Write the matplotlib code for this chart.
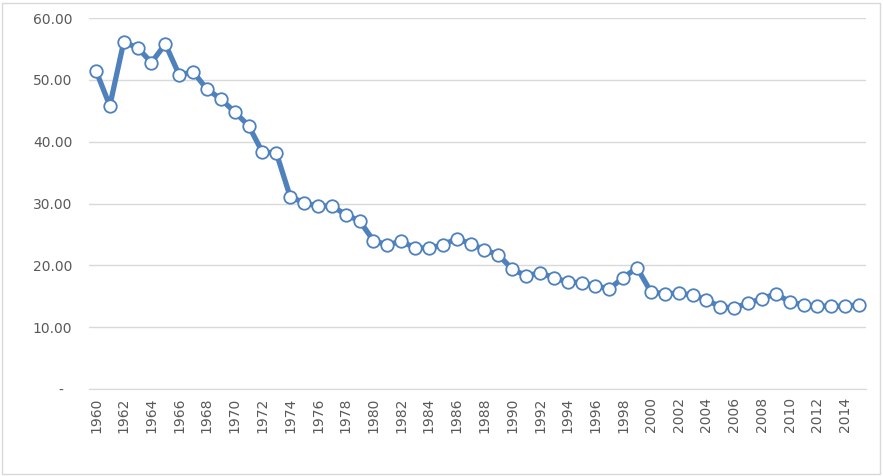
import numpy as np
import matplotlib.pyplot as plt

# yearly values
years = list(range(1960, 2016))
values = [51.5, 45.8, 56.1, 55.2, 52.8, 55.8, 50.8, 51.3, 48.5, 46.9,
          44.8, 42.6, 38.3, 38.2, 31.1, 30.1, 29.6, 29.6, 28.2, 27.2,
          24.0, 23.3, 23.9, 22.8, 22.8, 23.3, 24.3, 23.5, 22.5, 21.7,
          19.4, 18.3, 18.8, 18.0, 17.3, 17.2, 16.7, 16.2, 18.0, 19.6,
          15.7, 15.4, 15.5, 15.2, 14.4, 13.3, 13.1, 13.9, 14.6, 15.4,
          14.1, 13.6, 13.4, 13.4, 13.4, 13.6]
y_ticks = [0, 10, 20, 30, 40, 50, 60]
y_labels = ['-  ', '10.00', '20.00', '30.00', '40.00', '50.00', '60.00']

W, H = 883, 476
fig = plt.figure(figsize=(W / 100, H / 100), dpi=100)
fig.patches.append(plt.Rectangle((2 / W, 2 / H), 1 - 5 / W, 1 - 5 / H,
                                 transform=fig.transFigure, fill=False,
                                 edgecolor='#d9d9d9', linewidth=1))

ax = fig.add_axes([89 / W, 1 - 389 / H, (866 - 89) / W, (389 - 18) / H])
x = np.arange(len(years))
ax.plot(x, values, color='#4f81bd', linewidth=3.8, marker='o', markersize=9,
        markerfacecolor='white', markeredgecolor='#4f81bd', markeredgewidth=1.3,
        zorder=3)

ax.set_xlim(-0.5, len(years) - 0.5)
ax.set_ylim(0, 60)
ax.set_yticks(y_ticks)
ax.set_yticklabels(y_labels)
ax.set_xticks(x[::2])
ax.set_xticklabels([str(y) for y in years[::2]], rotation=90)

ax.grid(axis='y', color='#d9d9d9', linewidth=1)
ax.set_axisbelow(True)
for s in ['top', 'right', 'left']:
    ax.spines[s].set_visible(False)
ax.spines['bottom'].set_color('#d9d9d9')
ax.tick_params(axis='both', length=0, colors='#595959', labelsize=10)
ax.tick_params(axis='y', pad=12)
ax.tick_params(axis='x', pad=6)

fig.savefig('out.png', dpi=100)
